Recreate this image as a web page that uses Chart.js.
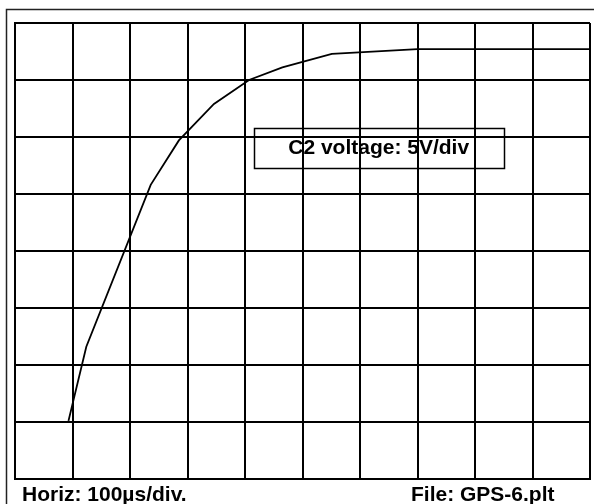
<!DOCTYPE html>
<html>
<head>
<meta charset="utf-8">
<script src="https://cdn.jsdelivr.net/npm/chart.js@4/dist/chart.umd.min.js"></script>
<style>
    html, body { margin: 0; padding: 0; background: #fff; }
    canvas { display: block; }
</style>
</head>
<body>
<canvas id="scopeChart" width="594" height="504"></canvas>
<script>
// 示波器曲线数据 (时间 µs, 电压 V)
const timeUs = [93, 124, 236, 285, 346, 407, 465, 551, 700, 1000];
const voltage = [5.1, 11.6, 25.8, 29.7, 32.9, 35.0, 36.1, 37.3, 37.7, 37.7];

// 坐标范围: 10 格 x 100µs, 8 格 x 5V
const xMin = 0, xMax = 1000, xStep = 100;
const yMin = 0, yMax = 40, yStep = 5;

// 文字标注
const boxLabel = 'C2 voltage: 5V/div';
const boxRange = { x0: 415, x1: 850, y0: 27.3, y1: 30.8 };
const footLeft = 'Horiz: 100µs/div.';
const footRight = 'File: GPS-6.plt';

const FONT = 'bold 21px "Liberation Sans", Arial, sans-serif';

// 外框 + 文本框 + 底部说明
const scopeDecor = {
    id: 'scopeDecor',
    beforeDraw(chart) {
        const ctx = chart.ctx;
        ctx.save();
        ctx.fillStyle = '#fff';
        ctx.fillRect(0, 0, chart.width, chart.height);
        ctx.strokeStyle = '#222';
        ctx.lineWidth = 1.5;
        ctx.strokeRect(6.5, 9.5, 700, 700);
        ctx.restore();
    },
    afterDraw(chart) {
        const ctx = chart.ctx;
        const xs = chart.scales.x;
        const ys = chart.scales.y;
        ctx.save();

        // 标注框
        const left = xs.getPixelForValue(boxRange.x0);
        const right = xs.getPixelForValue(boxRange.x1);
        const top = ys.getPixelForValue(boxRange.y1);
        const bottom = ys.getPixelForValue(boxRange.y0);
        ctx.strokeStyle = '#000';
        ctx.lineWidth = 1.5;
        ctx.strokeRect(Math.round(left) + 0.5, Math.round(top) + 0.5,
            Math.round(right - left), Math.round(bottom - top));

        ctx.fillStyle = '#000';
        ctx.font = FONT;
        ctx.textAlign = 'center';
        ctx.textBaseline = 'alphabetic';
        ctx.fillText(boxLabel, (left + right) / 2, (top + bottom) / 2 + 6);

        // 底部说明
        ctx.textAlign = 'left';
        ctx.fillText(footLeft, 22, 501);
        ctx.fillText(footRight, 411, 501);
        ctx.restore();
    }
};

const points = timeUs.map((t, i) => ({ x: t, y: voltage[i] }));

new Chart(document.getElementById('scopeChart'), {
    type: 'line',
    data: {
        datasets: [{
            data: points,
            borderColor: '#000',
            borderWidth: 1.8,
            pointRadius: 0,
            tension: 0,
            fill: false
        }]
    },
    options: {
        responsive: false,
        animation: false,
        layout: { padding: { left: 15, top: 23, right: 4, bottom: 25 } },
        plugins: {
            legend: { display: false },
            tooltip: { enabled: false }
        },
        scales: {
            x: {
                type: 'linear',
                min: xMin,
                max: xMax,
                ticks: { display: false, stepSize: xStep },
                grid: { color: '#000', lineWidth: 2, drawTicks: false },
                border: { color: '#000', width: 2 }
            },
            y: {
                min: yMin,
                max: yMax,
                ticks: { display: false, stepSize: yStep },
                grid: { color: '#000', lineWidth: 2, drawTicks: false },
                border: { color: '#000', width: 2 }
            }
        }
    },
    plugins: [scopeDecor]
});
</script>
</body>
</html>
